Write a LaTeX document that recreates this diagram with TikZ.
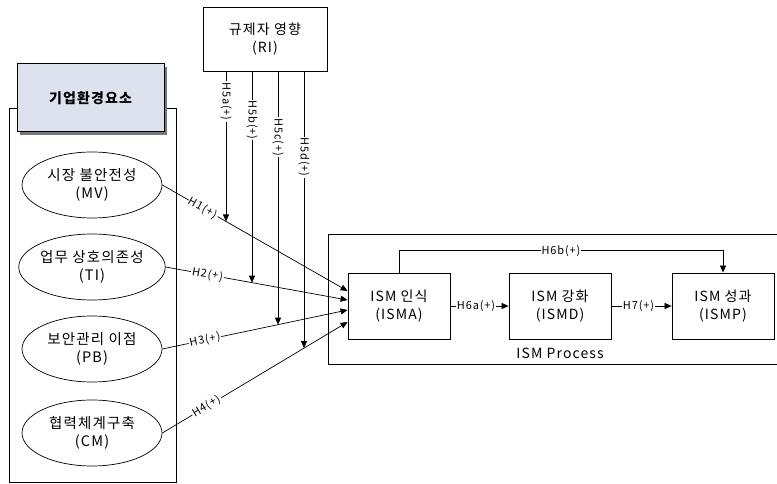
\documentclass[tikz,border=0pt]{standalone}
\usepackage{fontspec}
\setmainfont{Noto Sans CJK KR}[LetterSpace=8]
\usepackage{xcolor}
\usetikzlibrary{calc, intersections, arrows.meta, shapes.geometric}

\definecolor{titlefill}{RGB}{221,226,238}
\definecolor{shadowgray}{RGB}{120,120,120}

\tikzset{
	box/.style = {draw, line width = 0.8pt, minimum width = 102pt, minimum height = 66pt, align = center, inner sep = 0pt, font = \fontsize{14}{18}\selectfont},
	factor/.style = {draw, ellipse, line width = 0.7pt, minimum width = 140pt, minimum height = 66pt, align = center, inner sep = 0pt, font = \fontsize{14.5}{18}\selectfont},
	hyp/.style = {fill = white, inner sep = 1pt, font = \fontsize{11}{13}\selectfont},
	link/.style = {line width = 0.7pt, -{Triangle[length = 7pt, width = 6pt]}}
}

\begin{document}
\begin{tikzpicture}[x = 1pt, y = -1pt]
		\useasboundingbox (0,0) rectangle (777,484);
		\def\bend{22};
		
		% left block
		\draw [line width = 0.8pt] (9,108) rectangle (176,482);
		\fill [shadowgray] (20,67) rectangle (167,135);
		\node [draw, line width = 1pt, fill = titlefill, minimum width = 147pt, minimum height = 68pt, font = \fontsize{14}{18}\selectfont\bfseries] (env) at (90.5,98) {기업환경요소};
		
		\node [factor] (MV) at (92,185) {시장 불안전성\\(MV)};
		\node [factor] (TI) at (92,267) {업무 상호의존성\\(TI)};
		\node [factor] (PB) at (92,349) {보안관리 이점\\(PB)};
		\node [factor] (CM) at (92,433) {협력체계구축\\(CM)};
		
		% process block
		\draw [line width = 0.8pt] (780,234) -- (328,234) -- (328,364) -- (780,364);
		\node [font = \fontsize{14}{18}\selectfont] (proc) at (560,353) {ISM Process};
		
		\node [box] (ISMA) at (399,306) {ISM 인식\\(ISMA)};
		\node [box] (ISMD) at (560,306) {ISM 강화\\(ISMD)};
		\node [box] (ISMP) at (723,306) {ISM 성과\\(ISMP)};
		
		\node [box, minimum width = 124pt, minimum height = 64pt] (RI) at (265,39) {규제자 영향\\(RI)};
		
		% H1 - H4
		\draw [link, name path = h1] (MV.east) -- ([yshift = 15pt]ISMA.west) node [hyp, sloped, pos = 0.22] {H1(+)};
		\draw [link, name path = h2] (TI.east) -- ([yshift = 6pt]ISMA.west) node [hyp, sloped, pos = 0.23] {H2(+)};
		\draw [link, name path = h3] (PB.east) -- ([yshift = -4pt]ISMA.west) node [hyp, sloped, pos = 0.23] {H3(+)};
		\draw [link, name path = h4] (CM.east) -- ([yshift = -16pt]ISMA.west) node [hyp, sloped, pos = 0.24] {H4(+)};
		
		% H5a - H5d
		\coordinate (ri a) at ([xshift = -39pt]RI.south);
		\coordinate (ri b) at ([xshift = -13pt]RI.south);
		\coordinate (ri c) at ([xshift = 13pt]RI.south);
		\coordinate (ri d) at ([xshift = 39pt]RI.south);
		\path [name path = va] (ri a) -- ++(0,400);
		\path [name path = vb] (ri b) -- ++(0,400);
		\path [name path = vc] (ri c) -- ++(0,400);
		\path [name path = vd] (ri d) -- ++(0,400);
		
		\draw [link, name intersections = {of = va and h1}] (ri a) -- (intersection-1) node [hyp, rotate = -90, pos = 0.2] {H5a(+)};
		\draw [link, name intersections = {of = vb and h2}] (ri b) -- (intersection-1) node [hyp, rotate = -90, pos = 0.23] {H5b(+)};
		\draw [link, name intersections = {of = vc and h3}] (ri c) -- (intersection-1) node [hyp, rotate = -90, pos = 0.26] {H5c(+)};
		\draw [link, name intersections = {of = vd and h4}] (ri d) -- (intersection-1) node [hyp, rotate = -90, pos = 0.31] {H5d(+)};
		
		% H6 - H7
		\draw [link] (ISMA) -- (ISMD) node [hyp, pos = 0.44] {H6a(+)};
		\draw [link] (ISMD) -- (ISMP) node [hyp, pos = 0.45] {H7(+)};
		\coordinate (top bend) at ($ (ISMA.north) + (0,-\bend) $);
		\draw [link] (ISMA.north) -- (top bend) -| (ISMP.north) node [hyp, pos = 0.25] {H6b(+)};
	\end{tikzpicture}
\end{document}
